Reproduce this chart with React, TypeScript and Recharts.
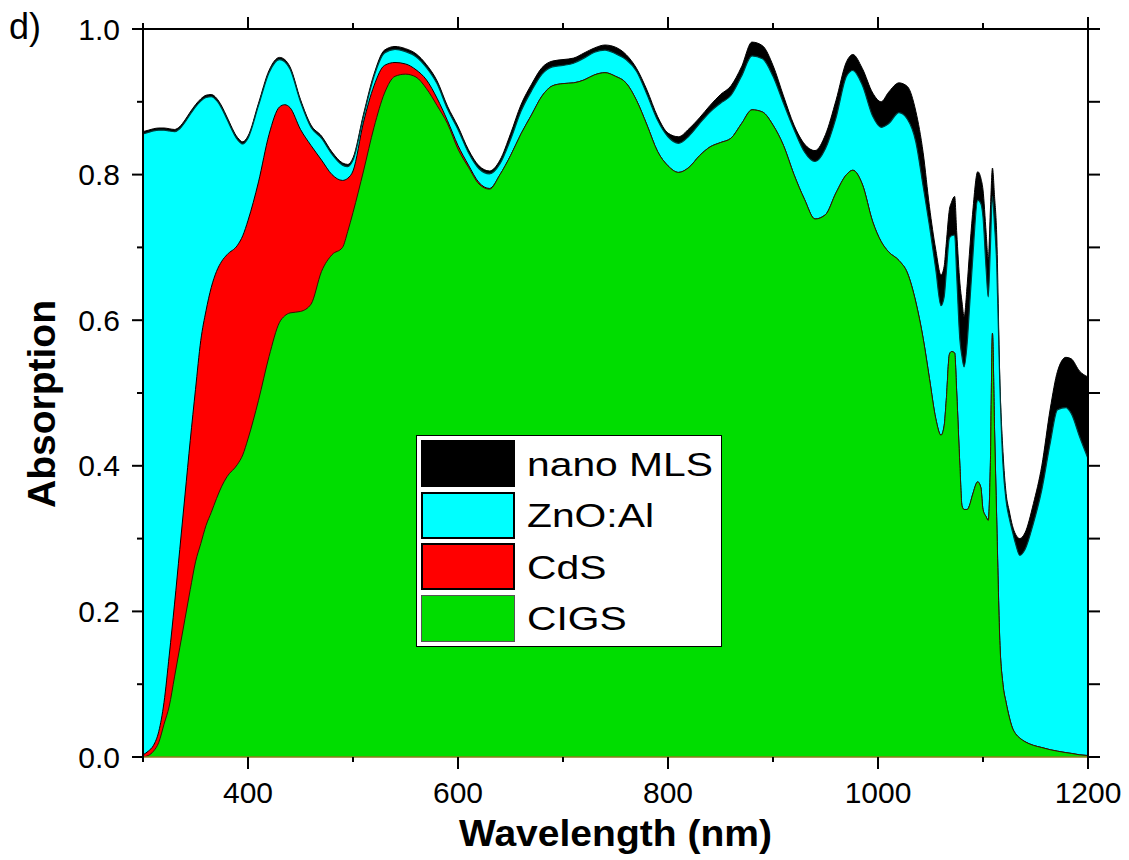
import React from 'react';
import { AreaChart, Area, XAxis, YAxis, Legend } from 'recharts';

const FONT = '"Liberation Sans", Arial, Helvetica, sans-serif';

// Wavelength grid (nm)
const wavelength = [300,305,310,315,320,325,330,335,340,345,350,355,360,365,370,375,380,390,395,400,410,420,430,435,440,450,460,470,480,490,495,500,510,520,530,540,550,560,570,580,590,600,610,620,630,640,650,660,670,680,690,700,710,720,730,740,750,760,770,780,790,800,810,820,830,840,850,860,870,880,890,900,910,920,930,940,950,960,970,976,985,995,1003,1010,1020,1028,1036,1043,1049,1055,1060,1063,1065,1068,1070,1073,1075,1078,1080,1082,1085,1087,1090,1095,1098,1100,1103,1105,1107,1109,1111,1113,1116,1119,1122,1125,1128,1131,1135,1140,1148,1156,1164,1171,1179,1184,1192,1200];

// Cumulative absorption: CIGS only
const cigsTop = [0.000,0.002,0.008,0.020,0.045,0.070,0.110,0.150,0.190,0.230,0.268,0.293,0.318,0.336,0.355,0.372,0.385,0.402,0.415,0.437,0.490,0.550,0.597,0.606,0.610,0.612,0.622,0.667,0.690,0.700,0.722,0.748,0.805,0.865,0.912,0.935,0.938,0.934,0.918,0.895,0.870,0.835,0.810,0.787,0.780,0.800,0.826,0.856,0.882,0.908,0.922,0.925,0.926,0.930,0.937,0.940,0.935,0.926,0.902,0.868,0.832,0.812,0.803,0.810,0.826,0.838,0.844,0.850,0.870,0.889,0.886,0.868,0.840,0.800,0.766,0.739,0.745,0.775,0.800,0.806,0.787,0.735,0.708,0.694,0.682,0.665,0.625,0.575,0.520,0.465,0.442,0.455,0.490,0.553,0.557,0.555,0.500,0.400,0.345,0.340,0.340,0.345,0.360,0.378,0.370,0.340,0.330,0.325,0.400,0.582,0.450,0.330,0.160,0.100,0.075,0.055,0.040,0.032,0.026,0.021,0.016,0.013,0.010,0.008,0.006,0.005,0.003,0.002];

// Cumulative absorption: CIGS + CdS
const cdsTop = [0.003,0.008,0.016,0.035,0.075,0.140,0.210,0.285,0.360,0.435,0.505,0.572,0.613,0.645,0.667,0.681,0.690,0.703,0.716,0.737,0.790,0.855,0.893,0.896,0.892,0.862,0.840,0.820,0.800,0.792,0.795,0.805,0.872,0.922,0.950,0.954,0.952,0.944,0.930,0.905,0.874,0.840,0.813,0.789,0.781,0.800,0.826,0.856,0.882,0.908,0.922,0.925,0.926,0.930,0.937,0.940,0.935,0.926,0.902,0.868,0.832,0.812,0.803,0.810,0.826,0.838,0.844,0.850,0.870,0.889,0.886,0.868,0.840,0.800,0.766,0.739,0.745,0.775,0.800,0.806,0.787,0.735,0.708,0.694,0.682,0.665,0.625,0.575,0.520,0.465,0.442,0.455,0.490,0.553,0.557,0.555,0.500,0.400,0.345,0.340,0.340,0.345,0.360,0.378,0.370,0.340,0.330,0.325,0.400,0.582,0.450,0.330,0.160,0.100,0.075,0.055,0.040,0.032,0.026,0.021,0.016,0.013,0.010,0.008,0.006,0.005,0.003,0.002];

// Cumulative absorption: CIGS + CdS + ZnO:Al
const znoTop = [0.856,0.858,0.860,0.861,0.861,0.860,0.859,0.863,0.872,0.883,0.893,0.901,0.906,0.907,0.902,0.891,0.876,0.848,0.842,0.850,0.895,0.940,0.958,0.955,0.945,0.900,0.865,0.850,0.828,0.813,0.811,0.820,0.880,0.935,0.967,0.972,0.969,0.962,0.947,0.925,0.890,0.862,0.830,0.808,0.801,0.815,0.848,0.887,0.915,0.938,0.948,0.950,0.953,0.960,0.968,0.971,0.966,0.958,0.942,0.910,0.875,0.852,0.843,0.853,0.870,0.886,0.898,0.909,0.935,0.963,0.959,0.935,0.898,0.862,0.831,0.818,0.836,0.878,0.935,0.943,0.923,0.880,0.865,0.870,0.885,0.876,0.845,0.784,0.730,0.670,0.620,0.632,0.665,0.713,0.716,0.717,0.660,0.573,0.550,0.536,0.570,0.614,0.680,0.765,0.760,0.742,0.670,0.632,0.700,0.770,0.730,0.680,0.513,0.403,0.352,0.328,0.310,0.293,0.277,0.285,0.321,0.367,0.431,0.477,0.480,0.472,0.440,0.410];

// Cumulative absorption: all layers (with nano MLS)
const mlsTop = [0.859,0.861,0.863,0.864,0.864,0.863,0.862,0.866,0.875,0.886,0.896,0.904,0.909,0.910,0.905,0.894,0.879,0.851,0.845,0.853,0.898,0.943,0.961,0.958,0.948,0.903,0.868,0.853,0.831,0.816,0.814,0.823,0.883,0.938,0.971,0.976,0.973,0.966,0.951,0.929,0.894,0.866,0.834,0.812,0.805,0.820,0.856,0.896,0.924,0.947,0.956,0.958,0.960,0.967,0.974,0.978,0.975,0.965,0.946,0.916,0.880,0.857,0.852,0.863,0.878,0.895,0.910,0.922,0.948,0.982,0.977,0.950,0.908,0.868,0.842,0.833,0.855,0.902,0.955,0.965,0.946,0.912,0.900,0.913,0.926,0.921,0.887,0.830,0.756,0.697,0.662,0.674,0.705,0.752,0.762,0.770,0.720,0.651,0.625,0.605,0.650,0.690,0.745,0.804,0.795,0.779,0.720,0.683,0.750,0.809,0.770,0.720,0.520,0.420,0.362,0.338,0.318,0.306,0.300,0.308,0.348,0.400,0.478,0.530,0.549,0.547,0.530,0.522];

const xTicks = [300,400,500,600,700,800,900,1000,1100,1200];
const xTickLabels: Record<string, string> = { '400': '400', '600': '600', '800': '800', '1000': '1000', '1200': '1200' };
const yTicks = [0,0.1,0.2,0.3,0.4,0.5,0.6,0.7,0.8,0.9,1.0];
const yTickLabels: Record<string, string> = { '0': '0.0', '0.2': '0.2', '0.4': '0.4', '0.6': '0.6', '0.8': '0.8', '1': '1.0' };

const legendNames = ['nano MLS', 'ZnO:Al', 'CdS', 'CIGS'];
const legendFills = ['#000000', '#00ffff', '#ff0000', '#00dd00'];
const legendBorders = ['#000000', '#000000', '#000000', '#555555'];

const data = wavelength.map((w, i) => ({
  w,
  mls: mlsTop[i],
  zno: znoTop[i],
  cds: cdsTop[i],
  cigs: cigsTop[i],
}));

const BottomTick = (p: any) => {
  const { x, y, payload } = p;
  const label = xTickLabels[String(payload.value)];
  return (
    <g>
      <line x1={x} y1={y} x2={x} y2={y + (label ? 12 : 5)} stroke="#000" strokeWidth={2} />
      {label && (
        <text x={x} y={y + 46} textAnchor="middle" fontSize={30} fontFamily={FONT} fill="#000">{label}</text>
      )}
    </g>
  );
};

const TopTick = (p: any) => {
  const { x, y, payload } = p;
  const major = !!xTickLabels[String(payload.value)];
  return <line x1={x} y1={y} x2={x} y2={y - (major ? 12 : 6)} stroke="#000" strokeWidth={2} />;
};

const LeftTick = (p: any) => {
  const { x, y, payload } = p;
  const label = yTickLabels[String(payload.value)];
  return (
    <g>
      <line x1={x} y1={y} x2={x - (label ? 11 : 6)} y2={y} stroke="#000" strokeWidth={2} />
      {label && (
        <text x={x - 23} y={y} dy="0.35em" textAnchor="end" fontSize={30} fontFamily={FONT} fill="#000">{label}</text>
      )}
    </g>
  );
};

const RightTick = (p: any) => {
  const { x, y } = p;
  return <line x1={x} y1={y} x2={x + 12} y2={y} stroke="#000" strokeWidth={2} />;
};

const XTitle = (p: any) => {
  const vb = p.viewBox;
  return (
    <text x={vb.x + vb.width / 2} y={vb.y + 89} textAnchor="middle" fontSize={37} fontWeight="bold"
      fontFamily={FONT} fill="#000" textLength={313} lengthAdjust="spacingAndGlyphs">Wavelength (nm)</text>
  );
};

const YTitle = (p: any) => {
  const vb = p.viewBox;
  const cx = vb.x + 55;
  const cy = vb.y + vb.height / 2 + 11;
  return (
    <g>
      <text transform={`translate(${cx}, ${cy}) rotate(-90)`} textAnchor="middle" fontSize={38} fontWeight="bold"
        fontFamily={FONT} fill="#000" textLength={208} lengthAdjust="spacingAndGlyphs">Absorption</text>
      <text x={vb.x + 9} y={vb.y + 10} fontSize={36} fontFamily={FONT} fill="#000">d)</text>
    </g>
  );
};

const LegendBox = () => (
  <div style={{
    position: 'relative', width: 306, height: 212, boxSizing: 'border-box',
    border: '1px solid #000', background: '#fff', fontFamily: FONT,
  }}>
    {legendNames.map((name, i) => (
      <div key={name} style={{ position: 'absolute', left: 4, top: 4 + i * 51.6, height: 47, display: 'flex', alignItems: 'center' }}>
        <div style={{
          width: 94, height: 47, boxSizing: 'border-box', background: legendFills[i],
          border: `${i === 3 ? 1 : 2}px solid ${legendBorders[i]}`,
        }} />
        <span style={{
          display: 'inline-block', marginLeft: 12, fontSize: 34, lineHeight: 1, color: '#000',
          whiteSpace: 'nowrap', transform: 'scaleX(1.2)', transformOrigin: 'left center',
        }}>{name}</span>
      </div>
    ))}
  </div>
);

export default function App() {
  return (
    <div style={{ position: 'absolute', left: 0, top: 0, width: 1129, height: 860, background: '#fff', overflow: 'hidden' }}>
      <AreaChart width={1129} height={860} data={data} margin={{ top: 0, right: 0, bottom: 0, left: 0 }}
        style={{ fontFamily: FONT }}>
        <Area xAxisId="b" yAxisId="l" type="monotone" dataKey="mls" name="nano MLS" stroke="#000" strokeWidth={1}
          fill="#000000" fillOpacity={1} dot={false} activeDot={false} isAnimationActive={false} />
        <Area xAxisId="b" yAxisId="l" type="monotone" dataKey="zno" name="ZnO:Al" stroke="#003a3a" strokeWidth={1.2}
          fill="#00ffff" fillOpacity={1} dot={false} activeDot={false} isAnimationActive={false} />
        <Area xAxisId="b" yAxisId="l" type="monotone" dataKey="cds" name="CdS" stroke="#000" strokeWidth={1}
          fill="#ff0000" fillOpacity={1} dot={false} activeDot={false} isAnimationActive={false} />
        <Area xAxisId="b" yAxisId="l" type="monotone" dataKey="cigs" name="CIGS" stroke="#3a1000" strokeWidth={1}
          fill="#00dd00" fillOpacity={1} dot={false} activeDot={false} isAnimationActive={false} />
        <XAxis xAxisId="b" dataKey="w" type="number" domain={[300, 1200]} allowDataOverflow ticks={xTicks}
          interval={0} height={103} tickSize={0} tickMargin={0} tickLine={false}
          axisLine={{ stroke: '#8c7d1e', strokeWidth: 1.5 }} tick={BottomTick} label={XTitle} />
        <XAxis xAxisId="t" orientation="top" dataKey="w" type="number" domain={[300, 1200]} allowDataOverflow
          ticks={xTicks} interval={0} height={29} tickSize={0} tickMargin={0} tickLine={false}
          axisLine={{ stroke: '#000', strokeWidth: 2 }} tick={TopTick} />
        <YAxis yAxisId="l" type="number" domain={[0, 1]} allowDataOverflow ticks={yTicks} interval={0}
          width={143} tickSize={0} tickMargin={0} tickLine={false}
          axisLine={{ stroke: '#000', strokeWidth: 2 }} tick={LeftTick} label={YTitle} />
        <YAxis yAxisId="r" orientation="right" type="number" domain={[0, 1]} allowDataOverflow ticks={yTicks}
          interval={0} width={41} tickSize={0} tickMargin={0} tickLine={false}
          axisLine={{ stroke: '#000', strokeWidth: 2 }} tick={RightTick} />
        <Legend layout="vertical" align="center" verticalAlign="middle"
          wrapperStyle={{ position: 'absolute', left: 416, top: 435, width: 306, height: 212, margin: 0, padding: 0 }}
          content={() => <LegendBox />} />
      </AreaChart>
    </div>
  );
}
